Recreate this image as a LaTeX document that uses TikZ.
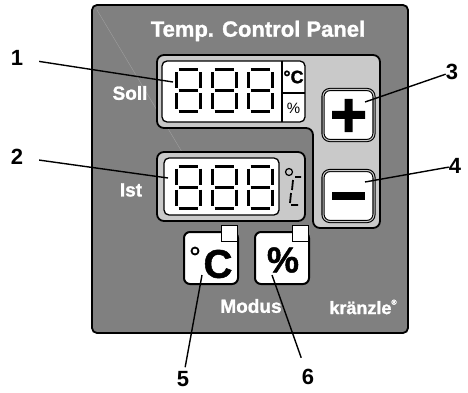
\documentclass[tikz,border=0pt]{standalone}
\usepackage{fontspec}
\setmainfont{Liberation Sans}
\newfontfamily\heavyfont{Liberation Sans}[FakeBold=1.3]
\usetikzlibrary{positioning}
\definecolor{panelgrey}{gray}{0.5}
\definecolor{lcdgrey}{gray}{0.79}
\definecolor{glare}{gray}{0.62}

\tikzset{
  frame/.style={draw=black, line width=1.8pt, rounded corners=7pt},
  lcd/.style={draw=black, fill=white, line width=1.3pt, rounded corners=5pt},
  key/.style={draw=black, fill=white, line width=1.1pt, double=lcdgrey,
    double distance=1pt, rounded corners=7pt, inner sep=0pt,
    minimum width=51pt, minimum height=51pt},
  modekey/.style={draw=black, fill=white, line width=2pt, rounded corners=6pt,
    inner sep=0pt, minimum width=54pt, minimum height=52pt},
  flag/.style={draw=black, fill=white, line width=1pt, inner sep=0pt,
    minimum size=16pt},
  caption/.style={text=white, inner sep=0pt, font=\heavyfont\bfseries\fontsize{19}{19}\selectfont},
  callout/.style={inner sep=0pt, font=\bfseries\fontsize{22}{22}\selectfont},
  leader/.style={line width=1.4pt},
  seg/.style={line width=3pt},
  eight/.pic={
    \draw[seg] (2.5,0) -- (21.5,0) (2.5,21) -- (21.5,21) (2.5,42) -- (21.5,42)
      (0,2.5) -- (0,18.5) (0,23.5) -- (0,39.5)
      (24,2.5) -- (24,18.5) (24,23.5) -- (24,39.5);
  },
}

\begin{document}
\begin{tikzpicture}[x=1pt, y=-1pt]
  \useasboundingbox (0,0) rectangle (468,393);

  % housing
  \draw[fill=panelgrey, draw=black, line width=1.8pt, rounded corners=5pt]
    (92,5) rectangle (408,333);
  \draw[glare, line width=0.4pt] (97,10) -- (182,152);

  \node[caption, font=\heavyfont\bfseries\fontsize{22}{22}\selectfont] (title) at (258,31) {Temp. Control Panel};

  % set value area with the two keys
  \draw[frame, fill=lcdgrey]
    (157,55) -- (380,55) -- (380,228) -- (313,228) -- (313,128) -- (157,128) -- cycle;
  \draw[lcd] (162,61) rectangle (305,122);
  \draw[line width=1.3pt] (282,61) -- (282,122) (282,93) -- (305,93);
  \foreach \dx in {176,212,248}
    \pic at (\dx,70) {eight};
  \node[inner sep=0pt, font=\heavyfont\bfseries\fontsize{18}{18}\selectfont] (sollC) at (293.5,77) {°C};
  \node[inner sep=0pt, font=\fontsize{15}{15}\selectfont] (sollP) at (293.5,108) {\%};
  \node[caption] (soll) at (130,93) {Soll};

  \node[key] (plus) at (348.5,115) {};
  \fill (332,111) rectangle (365,119) (344.5,99) rectangle (352.5,132);
  \node[key] (minus) at (348.5,196) {};
  \fill (332,192) rectangle (365,200);

  % actual value
  \draw[frame, fill=lcdgrey] (157,152) rectangle (305,221);
  \draw[lcd] (164,158) rectangle (279,215);
  \foreach \dx in {176,212,248}
    \pic at (\dx,166) {eight};
  \draw[line width=1.2pt] (289,172) circle (3.5pt);
  \draw[line width=1.8pt] (301,177) -- (295,177) (293,180) -- (292,190)
    (291,193) -- (290,203) (291,205) -- (298,205);
  \node[caption] (ist) at (131,190) {Ist};

  % mode keys
  \node[modekey] (modeC) at (211,258) {};
  \node[flag, anchor=north east] (flagC) at (238,225) {};
  \draw[fill=white, line width=1.8pt] (195,251) circle (3.5pt);
  \node[inner sep=0pt, font=\heavyfont\bfseries\fontsize{40}{40}\selectfont] at (218,264) {C};
  \node[modekey] (modeP) at (282,258) {};
  \node[flag, anchor=north east] (flagP) at (309,225) {};
  \node[inner sep=0pt, font=\heavyfont\bfseries\fontsize{36}{36}\selectfont] at (283,260) {\%};

  \node[caption] (modus) at (251,306) {Modus};
  \node[caption, font=\heavyfont\bfseries\fontsize{18}{18}\selectfont] (brand) at (363,307)
    {kränzle\raisebox{1ex}{\fontsize{7}{7}\selectfont®}};

  % callouts
  \coordinate (p1) at (173,82);
  \coordinate (p2) at (168,178);
  \coordinate (p3) at (365,102);
  \coordinate (p4) at (365,182);
  \coordinate (p5) at (202,275);
  \coordinate (p6) at (272,275);

  \node[callout] (n1) at (17,58) {1};
  \node[callout] (n2) at (17,157) {2};
  \node[callout] (n3) at (452,72) {3};
  \node[callout] (n4) at (455,166) {4};
  \node[callout] (n5) at (183,379) {5};
  \node[callout] (n6) at (308,377) {6};

  \draw[leader, shorten <=16pt] (n1) -- (p1);
  \draw[leader, shorten <=16pt] (n2) -- (p2);
  \draw[leader] (n3) -- (p3);
  \draw[leader] (n4) -- (p4);
  \draw[leader, shorten <=4pt] (n5) -- (p5);
  \draw[leader, shorten <=12pt] (n6) -- (p6);
\end{tikzpicture}
\end{document}
